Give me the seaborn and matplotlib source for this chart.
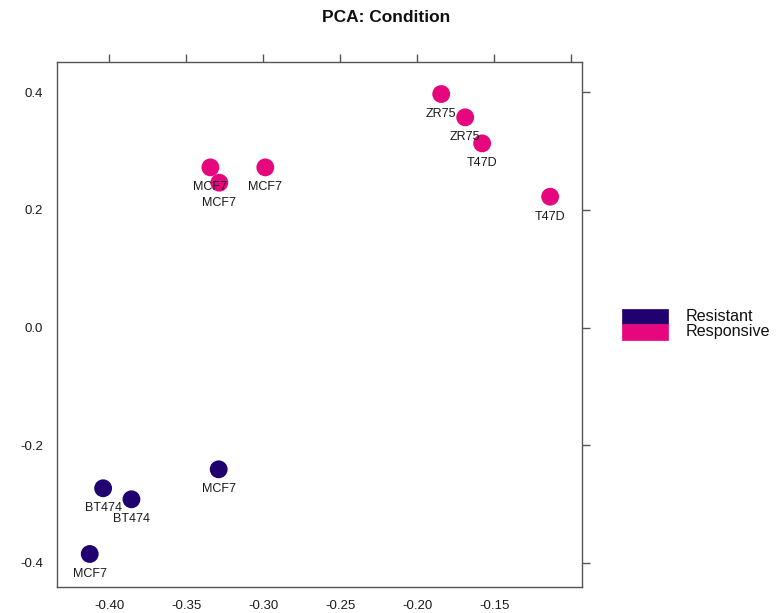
import matplotlib
matplotlib.use("Agg")
import matplotlib.pyplot as plt
from matplotlib.patches import Rectangle
import seaborn as sns
import pandas as pd

# Sample scores on the first two principal components
cell_lines = ["ZR75", "ZR75", "T47D", "T47D", "MCF7", "MCF7", "MCF7",
              "BT474", "BT474", "MCF7", "MCF7"]
condition = ["Responsive"] * 7 + ["Resistant"] * 4
pc1 = [-0.1844, -0.1688, -0.1578, -0.1136, -0.3344, -0.3286, -0.2987,
       -0.4041, -0.3857, -0.3290, -0.4128]
pc2 = [0.3966, 0.3570, 0.3128, 0.2222, 0.2720, 0.2460, 0.2720,
       -0.2731, -0.2918, -0.2409, -0.3847]

groups = ["Resistant", "Responsive"]
group_colors = ["#21006F", "#E6077E"]

x_ticks = [-0.40, -0.35, -0.30, -0.25, -0.20, -0.15, -0.10]
x_tick_labels = ["-0.40", "-0.35", "-0.30", "-0.25", "-0.20", "-0.15", ""]
y_ticks = [0.4, 0.2, 0.0, -0.2, -0.4]
y_tick_labels = ["0.4", "0.2", "0.0", "-0.2", "-0.4"]

df = pd.DataFrame({"PC1": pc1, "PC2": pc2, "line": cell_lines,
                   "Condition": condition})

sns.set_style("white")
plt.rcParams["font.family"] = ["Liberation Sans", "DejaVu Sans"]

W, H = 784, 613
fig = plt.figure(figsize=(W / 100, H / 100), dpi=100)
ax = fig.add_axes([56.5 / W, 1 - 587 / H, (581.7 - 56.5) / W, (587 - 62) / H])

sns.scatterplot(data=df, x="PC1", y="PC2", hue="Condition",
                hue_order=groups, palette=dict(zip(groups, group_colors)),
                s=165, linewidth=0, alpha=1, legend=False, ax=ax, zorder=3)

for _, r in df.iterrows():
    ax.annotate(r["line"], (r["PC1"], r["PC2"]), xytext=(0, -14.4),
                textcoords="offset points", ha="center", va="center",
                fontsize=9, color="#1a1a1a", zorder=4)

ax.set_xlim(-0.4344, -0.0931)
ax.set_ylim(-0.4408, 0.4510)
ax.set_xticks(x_ticks)
ax.set_xticklabels(x_tick_labels)
ax.set_yticks(y_ticks)
ax.set_yticklabels(y_tick_labels)
ax.set_xlabel("")
ax.set_ylabel("")

frame = "#555555"
for sp in ax.spines.values():
    sp.set_visible(True)
    sp.set_color(frame)
    sp.set_linewidth(1.0)
ax.tick_params(axis="both", which="both", direction="out", length=5.8,
               width=1.0, color=frame, top=True, right=True,
               labeltop=False, labelright=False, labelsize=9.5,
               labelcolor="#1a1a1a", pad=3.8)

fig.text(386 / W, 1 - 17 / H, "PCA: Condition", ha="center", va="center",
         fontsize=12.5, fontweight="bold", color="#111111")

# Key: stacked colour blocks with their group names
box_x, box_w, box_h = 622, 46, 15.5
for i, (g, c) in enumerate(zip(groups, group_colors)):
    top = 308.5 + i * box_h
    fig.add_artist(Rectangle((box_x / W, 1 - (top + box_h) / H),
                             box_w / W, box_h / H, transform=fig.transFigure,
                             facecolor=c, edgecolor=c, linewidth=0.5))
    fig.text(686 / W, 1 - (316.5 + i * 15.2) / H, g, ha="left", va="center",
             fontsize=11.6, color="#111111")

fig.savefig("out.png", dpi=100)
